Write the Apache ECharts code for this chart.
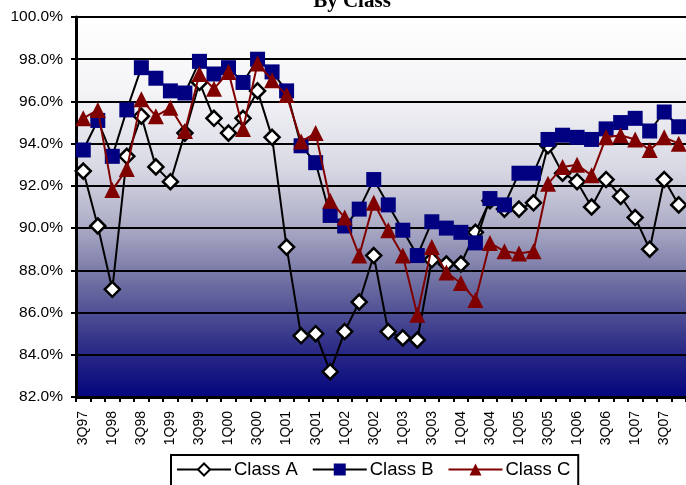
<!DOCTYPE html>
<html>
<head>
<meta charset="utf-8">
<script src="https://cdn.jsdelivr.net/npm/echarts@6/dist/echarts.min.js"></script>
<style>html,body{margin:0;padding:0;background:#fff;}#c{width:686px;height:485px;}</style>
</head>
<body>
<div id="c"></div>
<script>
var categories = ['3Q97','4Q97','1Q98','2Q98','3Q98','4Q98','1Q99','2Q99','3Q99','4Q99',
  '1Q00','2Q00','3Q00','4Q00','1Q01','2Q01','3Q01','4Q01','1Q02','2Q02',
  '3Q02','4Q02','1Q03','2Q03','3Q03','4Q03','1Q04','2Q04','3Q04','4Q04',
  '1Q05','2Q05','3Q05','4Q05','1Q06','2Q06','3Q06','4Q06','1Q07','2Q07',
  '3Q07','4Q07'];
var classA = [92.7,90.1,87.1,93.4,95.3,92.9,92.2,94.5,96.9,95.2,
  94.5,95.2,96.5,94.3,89.1,84.9,85.0,83.2,85.1,86.5,
  88.7,85.1,84.8,84.7,88.5,88.3,88.3,89.8,91.3,90.9,
  90.9,91.2,93.9,92.6,92.2,91.0,92.3,91.5,90.5,89.0,
  92.3,91.1];
var classB = [93.7,95.1,93.4,95.6,97.6,97.1,96.5,96.4,97.9,97.3,
  97.6,96.9,98.0,97.4,96.5,93.9,93.1,90.6,90.1,90.9,
  92.3,91.1,89.9,88.7,90.3,90.0,89.8,89.3,91.4,91.1,
  92.6,92.6,94.2,94.4,94.3,94.2,94.7,95.0,95.2,94.6,
  95.5,94.8];
var classC = [95.2,95.6,91.8,92.8,96.1,95.3,95.7,94.6,97.3,96.6,
  97.4,94.7,97.8,97.0,96.3,94.1,94.5,91.3,90.5,88.7,
  91.2,89.9,88.7,85.9,89.1,87.9,87.4,86.6,89.3,88.9,
  88.8,88.9,92.1,92.9,93.0,92.5,94.3,94.4,94.2,93.7,
  94.3,94.0];
var yTicks = {min: 82, max: 100, interval: 2};

var chart = echarts.init(document.getElementById('c'), null, {renderer: 'canvas'});
var font = '"Liberation Sans", Arial, sans-serif';
chart.setOption({
  animation: false,
  backgroundColor: '#ffffff',
  title: {
    text: 'By Class', left: 347, textAlign: 'center', top: -14,
    textStyle: {fontFamily: '"Liberation Serif", "Times New Roman", serif', fontWeight: 'bold', fontSize: 21, color: '#000'}
  },
  grid: {
    left: 76, right: -3, top: 17, bottom: 88, containLabel: false,
    show: true, borderWidth: 0,
    backgroundColor: {type: 'linear', x: 0, y: 0, x2: 0, y2: 1, colorStops: [
      {offset: 0, color: '#ffffff'},
      {offset: 0.2, color: '#f4f4f7'},
      {offset: 0.4, color: '#d8d8e4'},
      {offset: 0.55, color: '#acacc6'},
      {offset: 0.7, color: '#6e6ea2'},
      {offset: 0.85, color: '#34348a'},
      {offset: 1, color: '#04047e'}
    ]}
  },
  legend: {
    left: 171, top: 455, padding: [5, 8, 12, 5], itemGap: 14, itemWidth: 54, itemHeight: 15,
    borderColor: '#000', borderWidth: 2, backgroundColor: '#fff',
    textStyle: {fontFamily: font, fontSize: 18.5, color: '#000', padding: [0, 0, 0, -2]},
    data: ['Class A', 'Class B', 'Class C']
  },
  xAxis: {
    type: 'category', data: categories, boundaryGap: true,
    axisLine: {lineStyle: {color: '#000', width: 3}},
    axisTick: {show: true, interval: 0, length: 5, lineStyle: {color: '#000', width: 2}},
    axisLabel: {interval: 1, rotate: 90, fontFamily: font, fontSize: 14, color: '#000', margin: 14},
    splitLine: {show: false}
  },
  yAxis: {
    type: 'value', min: yTicks.min, max: yTicks.max, interval: yTicks.interval,
    axisLine: {show: true, lineStyle: {color: '#000', width: 3}},
    axisTick: {show: true, length: 5, lineStyle: {color: '#000', width: 2}},
    axisLabel: {fontFamily: font, fontSize: 15.5, color: '#000', margin: 13,
      formatter: function (v) { return v.toFixed(1) + '%'; }},
    splitLine: {show: true, lineStyle: {color: '#000', width: 2}}
  },
  series: [
    {name: 'Class A', type: 'line', data: classA, z: 3, showAllSymbol: true,
     symbol: 'diamond', symbolSize: 15,
     lineStyle: {color: '#000', width: 2},
     itemStyle: {color: '#fff', borderColor: '#000', borderWidth: 2.5}},
    {name: 'Class B', type: 'line', data: classB, z: 4, showAllSymbol: true,
     symbol: 'rect', symbolSize: 15,
     lineStyle: {color: '#000', width: 2},
     itemStyle: {color: '#000080', borderColor: '#000080', borderWidth: 0}},
    {name: 'Class C', type: 'line', data: classC, z: 5, showAllSymbol: true,
     symbol: 'triangle', symbolSize: 16,
     lineStyle: {color: '#800000', width: 2},
     itemStyle: {color: '#800000', borderColor: '#800000', borderWidth: 0}}
  ]
});
</script>
</body>
</html>
